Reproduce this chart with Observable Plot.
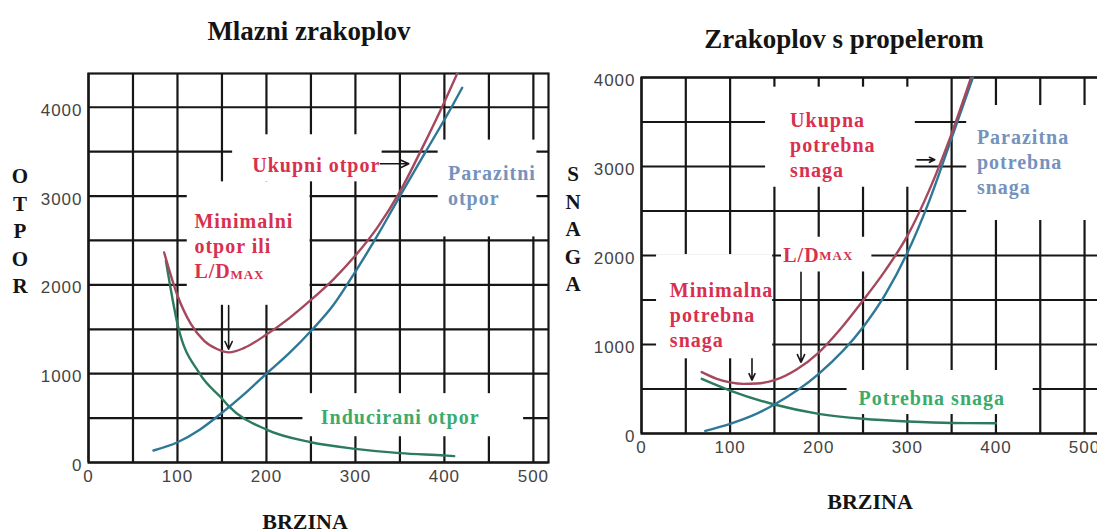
<!DOCTYPE html>
<html>
<head>
<meta charset="utf-8">
<script src="https://cdn.jsdelivr.net/npm/d3@7"></script>
<script src="https://cdn.jsdelivr.net/npm/@observablehq/plot@0.6"></script>
<style>
  html, body { margin: 0; padding: 0; background: #fff; }
  body { width: 1097px; height: 532px; overflow: hidden; position: relative; font-family: "Liberation Serif", "Times New Roman", serif; }
  .title { position: absolute; font-weight: bold; font-size: 27px; color: #141414; white-space: nowrap; transform: translate(-50%, -50%); }
  .vlab { position: absolute; font-weight: bold; font-size: 21px; line-height: 27.5px; text-align: center; width: 26px; color: #141414; }
  .xlab { position: absolute; font-weight: bold; font-size: 22px; color: #141414; white-space: nowrap; transform: translate(-50%, -50%); }
  svg.panel { position: absolute; top: 0; }
  svg.panel g[aria-label$="tick label"] text { letter-spacing: 1px; }
  svg.panel g[aria-label="text"] text { letter-spacing: 1px; font-family: "Liberation Serif", "Times New Roman", serif !important; font-weight: bold; }
</style>
</head>
<body>
<div class="title" style="left:309px; top:31px;">Mlazni zrakoplov</div>
<div class="title" style="left:844px; top:39px;">Zrakoplov s propelerom</div>
<div class="vlab" style="left:7px; top:163px;">O<br>T<br>P<br>O<br>R</div>
<div class="vlab" style="left:560px; top:161px;">S<br>N<br>A<br>G<br>A</div>
<div class="xlab" style="left:305px; top:522px;">BRZINA</div>
<div class="xlab" style="left:870px; top:502px;">BRZINA</div>
<script>
// ---------- shared axes ----------
const xGrid = [0, 50, 100, 150, 200, 250, 300, 350, 400, 450, 500];
const yGrid = [0, 500, 1000, 1500, 2000, 2500, 3000, 3500, 4000];
const xTicks = [0, 100, 200, 300, 400, 500];
const yTicks = [0, 1000, 2000, 3000, 4000];

// ---------- left: Mlazni zrakoplov (otpor) ----------
const jetTotalV = [85, 100, 115, 130, 145, 158, 175, 200, 225, 250, 275, 300, 325, 350, 375, 400, 418];
const jetTotalD = [2365, 1880, 1560, 1370, 1275, 1240, 1290, 1440, 1620, 1830, 2060, 2330, 2650, 3050, 3540, 4060, 4460];
const jetParasiteV = [73, 100, 125, 150, 175, 200, 225, 250, 275, 300, 325, 350, 379, 408, 420];
const jetParasiteD = [135, 228, 370, 560, 770, 1000, 1225, 1480, 1770, 2150, 2560, 3000, 3500, 4000, 4220];
const jetInducedV = [87, 100, 125, 150, 157, 200, 250, 300, 350, 400, 411];
const jetInducedD = [2272, 1560, 1000, 720, 641, 370, 228, 154, 105, 79, 72];

// label boxes (data units) that hide the grid
const jetBoxX1 = [162, 111, 393, 241];
const jetBoxX2 = [330, 249, 504, 489];
const jetBoxY1 = [3160, 1770, 2540, 290];
const jetBoxY2 = [3690, 3160, 3630, 775];

const jetLabels = ["Ukupni otpor", "Minimalni\notpor ili\nL/D", "Parazitni\notpor", "Inducirani otpor"];
const jetLabelX = [184, 119, 404, 261];
const jetLabelY = [3363, 2445, 3131, 529];
const jetMaxX = [119], jetMaxY = [2141];

const jetArrowX1 = [328, 157.5], jetArrowX2 = [360, 157.5];
const jetArrowY1 = [3363, 1766], jetArrowY2 = [3363, 1275];

// ---------- right: Zrakoplov s propelerom (snaga) ----------
const propTotalV = [68, 85, 100, 115, 130, 150, 175, 200, 225, 250, 275, 300, 325, 350, 372];
const propTotalP = [690, 615, 575, 558, 562, 600, 720, 910, 1180, 1494, 1830, 2220, 2740, 3370, 4000];
const propParasiteV = [72, 100, 125, 150, 200, 250, 275, 300, 325, 350, 374];
const propParasiteP = [30, 109, 200, 326, 670, 1194, 1560, 2030, 2620, 3320, 4000];
const propInducedV = [68, 100, 150, 200, 250, 300, 350, 400];
const propInducedP = [614, 483, 326, 221, 165, 135, 118, 116];

const propBoxX1 = [140, 367, 17, 158, 232];
const propBoxX2 = [309, 540, 148, 260, 442];
const propBoxY1 = [2767, 2393, 839, 1815, 213];
const propBoxY2 = [3891, 3685, 2010, 2205, 708];

const propLabels = ["Ukupna\npotrebna\nsnaga", "Parazitna\npotrebna\nsnaga", "Minimalna\npotrebna\nsnaga", "L/D", "Potrebna snaga"];
const propLabelX = [167.7, 378.5, 32, 160, 245];
const propLabelY = [3255, 3067, 1345, 2019, 408];
const propMaxX = [160], propMaxY = [2019];

const propArrowX1 = [311, 124.7, 180], propArrowX2 = [331, 124.7, 180];
const propArrowY1 = [3075, 839, 1812], propArrowY2 = [3075, 600, 800];

// ---------- helpers ----------
const zipXY = (xs, ys) => xs.map((x, i) => ({x, y: ys[i]}));
const zipBoxes = (a, b, c, d) => a.map((x1, i) => ({x1, x2: b[i], y1: c[i], y2: d[i]}));
const zipText = (t, xs, ys) => t.map((text, i) => ({text, x: xs[i], y: ys[i]}));
const zipArrows = (a, b, c, d) => a.map((x1, i) => ({x1, x2: b[i], y1: c[i], y2: d[i]}));

const RED_LINE = "#a5485d", BLUE_LINE = "#2d7897", GREEN_LINE = "#2c7b5c";
const RED_TEXT = "#d8304e", BLUE_TEXT = "#7592bd", GREEN_TEXT = "#3bab6c";

function panel(cfg) {
  const labelFont = {fontFamily: '"Liberation Serif", "Times New Roman", serif', fontWeight: "bold", fontSize: 20, lineHeight: 1.25, textAnchor: "start"};
  const svg = Plot.plot({
    width: cfg.width, height: 532,
    marginLeft: cfg.ml, marginRight: cfg.mr, marginTop: cfg.mt, marginBottom: cfg.mb,
    x: {domain: cfg.xDomain, label: null},
    y: {domain: cfg.yDomain, label: null},
    style: {fontFamily: '"Liberation Sans", Arial, sans-serif', fontSize: "17px", color: "#444", background: "transparent", overflow: "visible"},
    marks: [
      Plot.gridX(xGrid, {stroke: "#161616", strokeOpacity: 1, strokeWidth: 2.2}),
      Plot.gridY(yGrid, {stroke: "#161616", strokeOpacity: 1, strokeWidth: 2.2}),
      Plot.rect(cfg.boxes, {x1: "x1", x2: "x2", y1: "y1", y2: "y2", fill: "white", clip: true}),
      Plot.frame({stroke: "#161616", strokeWidth: 2.2}),
      Plot.axisX(xTicks, {tickSize: 0, tickPadding: 7, label: null, tickFormat: d => String(d)}),
      Plot.axisY(yTicks, {tickSize: 0, tickPadding: 6, dy: 3, label: null, tickFormat: d => String(d)}),
      ...cfg.curves.map(c => Plot.line(c.data, {x: "x", y: "y", stroke: c.color, strokeWidth: 2.4, curve: "monotone-x", clip: true})),
      ...cfg.labels.map(l => Plot.text([l], {x: "x", y: "y", text: "text", fill: l.color, ...labelFont})),
      Plot.text(cfg.max, {x: "x", y: "y", text: () => "MAX", fill: RED_TEXT, fontFamily: '"Liberation Serif", serif', fontWeight: "bold", fontSize: 13, textAnchor: "start", dx: 36, dy: 2}),
      Plot.arrow(cfg.arrows, {x1: "x1", y1: "y1", x2: "x2", y2: "y2", stroke: "#161616", strokeWidth: 1.6, headLength: 8, headAngle: 50})
    ]
  });
  svg.classList.add("panel");
  svg.style.left = cfg.left + "px";
  document.body.appendChild(svg);
}

const jetText = zipText(jetLabels, jetLabelX, jetLabelY);
const jetColors = [RED_TEXT, RED_TEXT, BLUE_TEXT, GREEN_TEXT];
jetText.forEach((t, i) => t.color = jetColors[i]);

panel({
  left: 0, width: 560, ml: 88, mr: 12, mt: 73, mb: 70,
  xDomain: [0, 517], yDomain: [0, 4380],
  boxes: zipBoxes(jetBoxX1, jetBoxX2, jetBoxY1, jetBoxY2),
  curves: [
    {data: zipXY(jetInducedV, jetInducedD), color: GREEN_LINE},
    {data: zipXY(jetParasiteV, jetParasiteD), color: BLUE_LINE},
    {data: zipXY(jetTotalV, jetTotalD), color: RED_LINE}
  ],
  labels: jetText,
  max: zipXY(jetMaxX, jetMaxY),
  arrows: zipArrows(jetArrowX1, jetArrowX2, jetArrowY1, jetArrowY2)
});

const propText = zipText(propLabels, propLabelX, propLabelY);
const propColors = [RED_TEXT, BLUE_TEXT, RED_TEXT, RED_TEXT, GREEN_TEXT];
propText.forEach((t, i) => t.color = propColors[i]);

panel({
  left: 560, width: 540, ml: 81, mr: 0, mt: 77, mb: 99,
  xDomain: [0, 518], yDomain: [0, 4000],
  boxes: zipBoxes(propBoxX1, propBoxX2, propBoxY1, propBoxY2),
  curves: [
    {data: zipXY(propInducedV, propInducedP), color: GREEN_LINE},
    {data: zipXY(propParasiteV, propParasiteP), color: BLUE_LINE},
    {data: zipXY(propTotalV, propTotalP), color: RED_LINE}
  ],
  labels: propText,
  max: zipXY(propMaxX, propMaxY),
  arrows: zipArrows(propArrowX1, propArrowX2, propArrowY1, propArrowY2)
});
</script>
</body>
</html>
